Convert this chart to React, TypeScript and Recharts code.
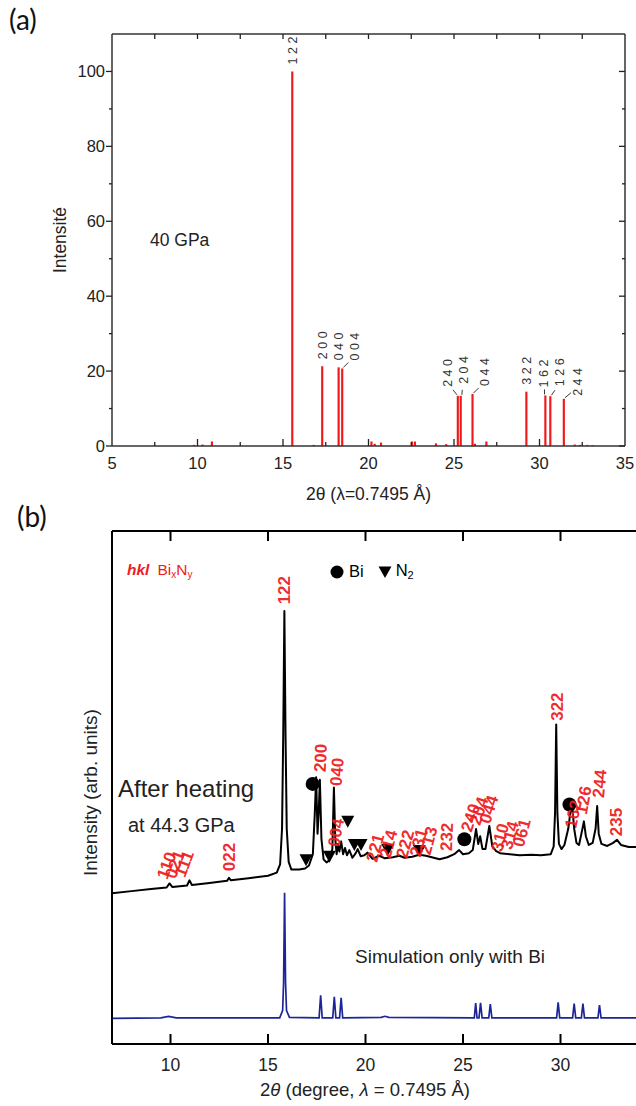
import React from 'react';
import { ComposedChart, Bar, Line, Scatter, XAxis, YAxis, Label } from 'recharts';

const SANS = '"Liberation Sans", Arial, Helvetica, sans-serif';
const RED = '#ee1d23';
const STICK_RED = '#f01818';
const INK = '#222';
const NAVY = '#1c2496';

// ---------- Panel (a): calculated stick pattern, 40 GPa ----------
const stickTwoTheta = [9.8, 10.3, 10.85, 15.55, 16.8, 17.3, 18.26, 18.47, 20.18, 20.37, 20.74, 22.55, 22.72, 23.95, 24.55, 25.23, 25.4, 26.09, 26.23, 26.9, 29.24, 30.35, 30.64, 31.43, 32.07, 32.37, 32.8, 33.1];
const stickIntensity = [0.3, 0.4, 1.2, 100, 0.3, 21.3, 21.0, 20.7, 1.2, 0.6, 0.9, 1.2, 1.2, 0.7, 0.5, 13.4, 13.4, 13.9, 0.6, 1.2, 14.5, 13.5, 13.3, 12.6, 0.4, 0.3, 0.3, 0.2];
const stickHkl = ['', '', '', '1 2 2', '', '2 0 0', '0 4 0', '0 0 4', '', '', '', '', '', '', '', '2 4 0', '2 0 4', '0 4 4', '', '', '3 2 2', '1 6 2', '1 2 6', '2 4 4', '', '', '', ''];

const aXTicks = [5, 7.5, 10, 12.5, 15, 17.5, 20, 22.5, 25, 27.5, 30, 32.5, 35];
const aYTicks = [0, 10, 20, 30, 40, 50, 60, 70, 80, 90, 100];

// ---------- Panel (b): measured pattern after heating, and Bi simulation ----------
const heatedTwoTheta = [7.0, 8.0, 9.0, 9.8, 9.95, 10.1, 10.85, 10.97, 11.1, 12.0, 12.9, 13.0, 13.1, 14.0, 15.0, 15.45, 15.62, 15.72, 15.78, 15.84, 15.9, 15.96, 16.06, 16.2, 16.6, 16.9, 17.1, 17.3, 17.4, 17.47, 17.54, 17.6, 17.66, 17.74, 17.85, 18.0, 18.15, 18.3, 18.38, 18.45, 18.52, 18.58, 18.66, 18.75, 18.85, 18.95, 19.05, 19.17, 19.33, 19.5, 19.6, 19.75, 19.94, 20.1, 20.36, 20.7, 21.0, 21.4, 21.74, 22.0, 22.4, 22.75, 23.1, 23.5, 23.8, 24.2, 24.55, 24.8, 25.0, 25.3, 25.5, 25.67, 25.78, 25.88, 26.0, 26.15, 26.35, 26.5, 26.7, 26.9, 27.4, 27.9, 28.5, 29.0, 29.5, 29.65, 29.72, 29.78, 29.84, 29.92, 30.05, 30.2, 30.4, 30.5, 30.6, 30.7, 30.82, 30.95, 31.1, 31.2, 31.3, 31.45, 31.65, 31.8, 31.88, 31.96, 32.1, 32.4, 32.7, 32.9, 33.1, 33.5, 34.0, 35.0];
const heatedIntensity = [29.4, 29.8, 30.2, 30.5, 31.3, 30.6, 30.9, 31.9, 31.0, 31.4, 31.8, 32.4, 31.9, 32.3, 32.8, 33.4, 35.0, 42.0, 60.0, 84.4, 60.0, 42.0, 35.5, 34.0, 34.0, 34.2, 34.8, 37.0, 45.0, 52.0, 41.0, 45.0, 51.5, 40.0, 36.0, 35.4, 35.8, 38.0, 50.0, 40.0, 37.0, 39.0, 37.5, 39.5, 37.0, 38.2, 36.8, 37.8, 36.3, 37.2, 38.0, 36.6, 36.8, 37.3, 36.1, 36.7, 36.2, 36.4, 36.7, 36.3, 36.5, 36.9, 36.7, 36.3, 36.0, 36.4, 37.0, 37.8, 37.0, 37.2, 37.8, 41.9, 39.0, 40.5, 38.0, 38.0, 42.5, 38.6, 37.6, 37.2, 37.0, 36.8, 36.9, 36.8, 37.0, 38.5, 45.0, 62.3, 45.0, 39.0, 38.0, 38.8, 42.0, 45.0, 46.5, 42.0, 39.2, 38.8, 41.5, 43.4, 40.5, 38.8, 39.2, 42.0, 46.4, 41.0, 39.0, 38.6, 39.2, 39.8, 38.8, 38.4, 38.4, 38.5];

const simTwoTheta = [7.0, 9.5, 9.9, 10.3, 15.6, 15.75, 15.8, 15.85, 15.9, 15.95, 16.1, 17.62, 17.7, 17.78, 18.32, 18.4, 18.48, 18.67, 18.75, 18.83, 20.8, 21.0, 21.2, 25.58, 25.65, 25.72, 25.82, 25.9, 25.98, 26.32, 26.4, 26.48, 29.8, 29.88, 29.96, 30.62, 30.7, 30.78, 31.07, 31.15, 31.23, 31.92, 32.0, 32.08, 35.0];
const simIntensity = [5.0, 5.1, 5.4, 5.1, 5.1, 6.5, 12.0, 29.5, 12.0, 6.5, 5.2, 5.1, 9.5, 5.1, 5.1, 9.2, 5.1, 5.1, 9.0, 5.1, 5.2, 5.4, 5.2, 5.1, 8.0, 5.1, 5.1, 8.0, 5.1, 5.1, 7.8, 5.1, 5.1, 8.1, 5.1, 5.1, 7.9, 5.1, 5.1, 7.9, 5.1, 5.1, 7.6, 5.1, 5.1];

const biTwoTheta = [17.29, 25.07, 30.46];
const biIntensity = [50.7, 39.9, 46.7];
const n2TwoTheta = [16.95, 18.15, 19.09, 19.43, 19.77, 21.14, 22.76];
const n2Intensity = [35.9, 36.6, 43.4, 38.9, 38.9, 37.9, 37.7];

const hklText = ['110', '021', '111', '022', '122', '200', '040', '004', '221', '214', '222', '231', '213', '232', '240', '204', '044', '310', '314', '061', '322', '162', '126', '244', '235'];
const hklTwoTheta = [9.55, 9.97, 10.46, 13.02, 15.82, 17.66, 18.46, 18.35, 20.3, 20.98, 21.84, 22.52, 23.03, 24.13, 25.15, 25.58, 26.09, 26.7, 27.21, 27.81, 29.84, 30.5, 31.05, 31.93, 32.85];
const hklIntensity = [32.3, 32.4, 32.7, 33.7, 85.7, 53.0, 50.3, 38.5, 35.6, 36.3, 36.3, 36.6, 37.0, 37.6, 41.5, 42.8, 43.1, 37.6, 38.0, 38.5, 63.0, 42.1, 44.8, 48.0, 40.5];

const bXTicks = [10, 15, 20, 25, 30];

// ---------- styling maps (not data) ----------
const STICK_LABEL_NUDGE: Record<string, { dx: number; gap: number }> = {
  '0 0 4': { dx: 12, gap: 8 },
  '2 4 0': { dx: -10, gap: 9 },
  '2 0 4': { dx: 3, gap: 12 },
  '0 4 4': { dx: 12, gap: 8 },
  '1 6 2': { dx: -2, gap: 8 },
  '1 2 6': { dx: 9, gap: 10 },
  '2 4 4': { dx: 14, gap: 3 },
};
const HKL_ANGLE: Record<string, number> = {
  '110': -70, '021': -70, '111': -70, '022': -90, '122': -90, '200': -88, '040': -85, '004': -80,
  '221': -75, '214': -75, '222': -75, '231': -75, '213': -75, '232': -88, '240': -72, '204': -72,
  '044': -72, '310': -75, '314': -75, '061': -75, '322': -90, '162': -78, '126': -80, '244': -85, '235': -90,
};

const stickData = stickTwoTheta.map((x, i) => ({ x, y: stickIntensity[i], hkl: stickHkl[i] }));
const stickLabelData = stickData.filter((d) => d.hkl !== '');
const heatedData = heatedTwoTheta.map((x, i) => ({ x, y: heatedIntensity[i] }));
const simData = simTwoTheta.map((x, i) => ({ x, y: simIntensity[i] }));
const biData = biTwoTheta.map((x, i) => ({ x, y: biIntensity[i] }));
const n2Data = n2TwoTheta.map((x, i) => ({ x, y: n2Intensity[i] }));
const hklData = hklText.map((t, i) => ({ x: hklTwoTheta[i], y: hklIntensity[i], t }));

const isMult = (v: number, m: number) => Math.abs(v / m - Math.round(v / m)) < 1e-6;

// ---------- tick renderers (panel a) ----------
const aBottomTick = (p: any) => {
  const v = p.payload.value;
  const major = isMult(v, 5);
  const edge = v === 5 || v === 35;
  return (
    <g>
      {!edge && <line x1={p.x} x2={p.x} y1={p.y} y2={p.y - (major ? 7 : 4)} stroke={INK} strokeWidth={1.3} />}
      {major && (
        <text x={p.x} y={p.y + 23} textAnchor="middle" fontSize={16.5} fontFamily={SANS} fill={INK}>{v}</text>
      )}
    </g>
  );
};
const aTopTick = (p: any) => {
  const v = p.payload.value;
  const edge = v === 5 || v === 35;
  if (edge) return <g />;
  return <line x1={p.x} x2={p.x} y1={p.y} y2={p.y + 5} stroke={INK} strokeWidth={1.3} />;
};
const aLeftTick = (p: any) => {
  const v = p.payload.value;
  const major = isMult(v, 20);
  return (
    <g>
      <line x1={p.x} x2={p.x - (major ? 6 : 3)} y1={p.y} y2={p.y} stroke={INK} strokeWidth={1.3} />
      {major && (
        <text x={p.x - 7} y={p.y} dy="0.35em" textAnchor="end" fontSize={16.5} fontFamily={SANS} fill={INK}>{v}</text>
      )}
    </g>
  );
};
const aRightTick = (p: any) => {
  const v = p.payload.value;
  const major = isMult(v, 20);
  return <line x1={p.x} x2={p.x - (major ? 6 : 3)} y1={p.y} y2={p.y} stroke={INK} strokeWidth={1.3} />;
};

// ---------- tick renderers (panel b) ----------
const bBottomTick = (p: any) => (
  <g>
    <line x1={p.x} x2={p.x} y1={p.y} y2={p.y - 10} stroke="#000" strokeWidth={2} />
    <text x={p.x} y={p.y + 27} textAnchor="middle" fontSize={17.5} fontFamily={SANS} fill={INK}>{p.payload.value}</text>
  </g>
);
const bTopTick = (p: any) => <line x1={p.x} x2={p.x} y1={p.y} y2={p.y + 10} stroke="#000" strokeWidth={2} />;

// ---------- shapes ----------
const stickLabelShape = (p: any) => {
  const hkl: string = p.payload.hkl;
  const n = STICK_LABEL_NUDGE[hkl] || { dx: 0, gap: 7 };
  const tx = p.cx + n.dx;
  const ty = p.cy - n.gap;
  const sgn = n.dx === 0 ? 0 : n.dx > 0 ? 1 : -1;
  return (
    <g>
      {sgn !== 0 && (
        <line x1={p.cx + sgn * 1} y1={p.cy - 1} x2={p.cx + n.dx * 0.5} y2={p.cy - 6} stroke={INK} strokeWidth={0.9} />
      )}
      <text x={tx} y={ty} dy="0.35em" transform={`rotate(-90 ${tx} ${ty})`} textAnchor="start" fontSize={12.5} fontFamily={SANS} fill="#333">
        {hkl}
      </text>
    </g>
  );
};
const biShape = (p: any) => <circle cx={p.cx} cy={p.cy} r={7} fill="#000" />;
const n2Shape = (p: any) => (
  <path d={`M${p.cx - 6.5},${p.cy - 5.5} L${p.cx + 6.5},${p.cy - 5.5} L${p.cx},${p.cy + 6.5} Z`} fill="#000" />
);
const hklShape = (p: any) => {
  const t: string = p.payload.t;
  const a = HKL_ANGLE[t] ?? -90;
  return (
    <text x={p.cx} y={p.cy} dy="0.35em" transform={`rotate(${a} ${p.cx} ${p.cy})`} textAnchor="start" fontSize={17} fontWeight={700} fontFamily={SANS} fill={RED} fillOpacity={0.95}>
      {t}
    </text>
  );
};

function PanelA() {
  return (
    <ComposedChart width={636} height={510} data={stickData} margin={{ top: 24, right: 1, bottom: 8, left: 52 }}>
      <XAxis
        dataKey="x" type="number" domain={[5, 35]} ticks={aXTicks} interval={0} allowDataOverflow
        tickLine={false} tickSize={0} tickMargin={0} tick={aBottomTick} height={56}
        axisLine={{ stroke: '#333', strokeWidth: 1.5 }}
      >
        <Label
          content={(lp: any) => {
            const vb = lp.viewBox;
            return (
              <text x={vb.x + vb.width / 2} y={vb.y + 54} textAnchor="middle" fontSize={17.5} fontFamily={SANS} fill={INK}>
                2θ (λ=0.7495 Å)
              </text>
            );
          }}
        />
      </XAxis>
      <XAxis
        xAxisId="top" orientation="top" dataKey="x" type="number" domain={[5, 35]} ticks={aXTicks} interval={0}
        allowDataOverflow tickLine={false} tickSize={0} tickMargin={0} tick={aTopTick} height={10}
        axisLine={{ stroke: '#333', strokeWidth: 1.5 }}
      />
      <YAxis
        dataKey="y" type="number" domain={[0, 110]} ticks={aYTicks} interval={0} allowDataOverflow
        tickLine={false} tickSize={0} tickMargin={0} tick={aLeftTick} width={60}
        axisLine={{ stroke: '#333', strokeWidth: 1.5 }}
      >
        <Label
          content={(lp: any) => {
            const vb = lp.viewBox;
            const cx = vb.x + 8;
            const cy = vb.y + vb.height / 2;
            return (
              <text x={cx} y={cy} dy="0.35em" transform={`rotate(-90 ${cx} ${cy})`} textAnchor="middle" fontSize={17.5} fontFamily={SANS} fill={INK}>
                Intensité
              </text>
            );
          }}
        />
      </YAxis>
      <YAxis
        yAxisId="right" orientation="right" type="number" domain={[0, 110]} ticks={aYTicks} interval={0}
        allowDataOverflow tickLine={false} tickSize={0} tickMargin={0} tick={aRightTick} width={10}
        axisLine={{ stroke: '#333', strokeWidth: 1.5 }}
      />
      <Bar dataKey="y" fill={STICK_RED} barSize={3} isAnimationActive={false} />
      <Scatter data={stickLabelData} dataKey="y" shape={stickLabelShape} isAnimationActive={false} />
    </ComposedChart>
  );
}

function PanelB() {
  return (
    <ComposedChart width={700} height={601} margin={{ top: 16, right: 32, bottom: 6, left: 52 }}>
      <XAxis
        dataKey="x" type="number" domain={[7, 35]} ticks={bXTicks} interval={0} allowDataOverflow
        tickLine={false} tickSize={0} tickMargin={0} tick={bBottomTick} height={56}
        axisLine={{ stroke: '#000', strokeWidth: 2 }}
      >
        <Label
          content={(lp: any) => {
            const vb = lp.viewBox;
            return (
              <text x={365} y={vb.y + 52} textAnchor="middle" fontSize={18.5} fontFamily={SANS} fill={INK}>
                2<tspan fontStyle="italic">θ</tspan> (degree, <tspan fontStyle="italic">λ</tspan> = 0.7495 Å)
              </text>
            );
          }}
        />
      </XAxis>
      <XAxis
        xAxisId="top" orientation="top" dataKey="x" type="number" domain={[7, 35]} ticks={bXTicks} interval={0}
        allowDataOverflow tickLine={false} tickSize={0} tickMargin={0} tick={bTopTick} height={10}
        axisLine={{ stroke: '#000', strokeWidth: 2 }}
      />
      <YAxis
        dataKey="y" type="number" domain={[0, 100]} allowDataOverflow tick={false} tickLine={false} width={60}
        axisLine={{ stroke: '#000', strokeWidth: 2 }}
      >
        <Label
          content={(lp: any) => {
            const vb = lp.viewBox;
            const cx = vb.x + 38;
            const cy = vb.y + vb.height / 2 + 5;
            return (
              <text x={cx} y={cy} dy="0.35em" transform={`rotate(-90 ${cx} ${cy})`} textAnchor="middle" fontSize={19} fontFamily={SANS} fill={INK}>
                Intensity (arb. units)
              </text>
            );
          }}
        />
      </YAxis>
      <YAxis
        yAxisId="right" orientation="right" type="number" domain={[0, 100]} allowDataOverflow tick={false}
        tickLine={false} width={10} axisLine={{ stroke: '#000', strokeWidth: 2 }}
      />
      <Line data={simData} dataKey="y" type="linear" stroke={NAVY} strokeWidth={1.7} dot={false} isAnimationActive={false} />
      <Line data={heatedData} dataKey="y" type="linear" stroke="#000" strokeWidth={2} strokeLinejoin="round" dot={false} isAnimationActive={false} />
      <Scatter data={biData} dataKey="y" shape={biShape} isAnimationActive={false} />
      <Scatter data={n2Data} dataKey="y" shape={n2Shape} isAnimationActive={false} />
      <Scatter data={hklData} dataKey="y" shape={hklShape} isAnimationActive={false} />
    </ComposedChart>
  );
}

const abs = (left: number, top: number, extra: React.CSSProperties = {}): React.CSSProperties => ({
  position: 'absolute', left, top, lineHeight: 1, whiteSpace: 'nowrap', ...extra,
});

export default function App() {
  return (
    <div style={{ position: 'absolute', left: 0, top: 0, width: 636, height: 1106, overflow: 'hidden', background: '#fff', fontFamily: SANS }}>
      <div style={{ position: 'absolute', left: 0, top: 0 }}>
        <PanelA />
      </div>
      <div style={{ position: 'absolute', left: 0, top: 505 }}>
        <PanelB />
      </div>

      <div style={abs(9, 5, { fontSize: 28, fontFamily: 'Lato, "Open Sans", sans-serif', color: '#111' })}>(a)</div>
      <div style={abs(17, 502, { fontSize: 28, fontFamily: 'Lato, "Open Sans", sans-serif', color: '#111' })}>(b)</div>
      <div style={abs(150, 232, { fontSize: 17.5, color: INK })}>40 GPa</div>

      <div style={abs(127, 562, { fontSize: 15.5, color: RED })}>
        <span style={{ fontWeight: 700, fontStyle: 'italic' }}>hkl</span>
        <span style={{ marginLeft: 8 }}>
          Bi<sub style={{ fontSize: 10, verticalAlign: -3 }}>x</sub>N<sub style={{ fontSize: 10, verticalAlign: -3 }}>y</sub>
        </span>
      </div>
      <div style={abs(330, 562, { fontSize: 16.5, color: '#000', display: 'flex', alignItems: 'center' })}>
        <svg width={14} height={14} style={{ marginRight: 5 }}>
          <circle cx={7} cy={7} r={6.5} fill="#000" />
        </svg>
        <span>Bi</span>
        <svg width={14} height={14} style={{ marginLeft: 14, marginRight: 4 }}>
          <path d="M0.5,1.5 L13.5,1.5 L7,13 Z" fill="#000" />
        </svg>
        <span>
          N<sub style={{ fontSize: 11, verticalAlign: -3 }}>2</sub>
        </span>
      </div>

      <div style={abs(118, 777, { fontSize: 24, color: INK })}>After heating</div>
      <div style={abs(128, 815, { fontSize: 20, color: INK })}>at 44.3 GPa</div>
      <div style={abs(355, 947, { fontSize: 19, color: INK })}>Simulation only with Bi</div>
    </div>
  );
}
